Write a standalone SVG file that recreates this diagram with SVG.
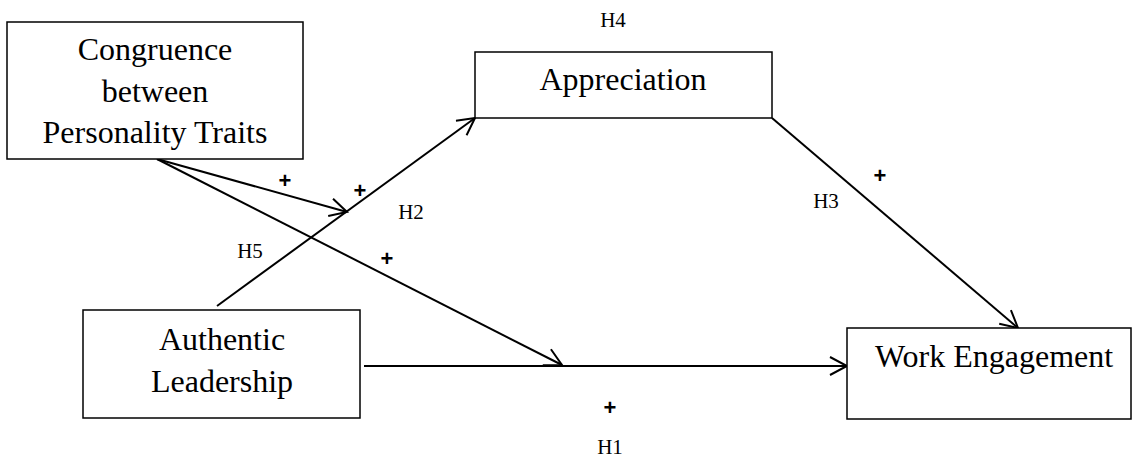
<svg xmlns="http://www.w3.org/2000/svg" width="1133" height="457" viewBox="0 0 1133 457">
<defs>
<style>
.box{fill:#fff;stroke:#000;stroke-width:1.5}
.t{font-family:"Liberation Serif","Times New Roman",serif;font-size:32px;fill:#000;text-anchor:middle}
.h{font-family:"Liberation Serif","Times New Roman",serif;font-size:21px;fill:#000;text-anchor:middle}
.p{font-family:"Liberation Sans",Arial,sans-serif;font-size:22px;font-weight:bold;fill:#000;text-anchor:middle}
.c{fill:none;stroke:#000;stroke-width:2}
</style>
<marker id="arr" markerWidth="22" markerHeight="22" refX="18" refY="10" orient="auto" markerUnits="userSpaceOnUse">
<path d="M1,1 L18,10 L1,19" fill="none" stroke="#000" stroke-width="2"/>
</marker>
</defs>
<rect width="1133" height="457" fill="#fff"/>
<g id="connectors">
<line class="c" x1="364" y1="366" x2="847" y2="366" marker-end="url(#arr)"/>
<line class="c" x1="157" y1="159" x2="562" y2="365" marker-end="url(#arr)"/>
<line class="c" x1="157" y1="159" x2="347" y2="212" marker-end="url(#arr)"/>
<line class="c" x1="217" y1="306" x2="475" y2="118" marker-end="url(#arr)"/>
<line class="c" x1="772" y1="118" x2="1018" y2="328" marker-end="url(#arr)"/>
</g>
<g id="node-congruence">
<rect class="box" x="7" y="22" width="296" height="137"/>
<text class="t" x="155" y="60">Congruence</text>
<text class="t" x="155" y="102">between</text>
<text class="t" x="155" y="143">Personality Traits</text>
</g>
<g id="node-appreciation">
<rect class="box" x="475" y="52" width="297" height="66"/>
<text class="t" x="623" y="90">Appreciation</text>
</g>
<g id="node-authentic">
<rect class="box" x="83" y="310" width="277" height="108"/>
<text class="t" x="222" y="350">Authentic</text>
<text class="t" x="222" y="392">Leadership</text>
</g>
<g id="node-engagement">
<rect class="box" x="847" y="328" width="284" height="91"/>
<text class="t" x="994" y="367">Work Engagement</text>
</g>
<g id="labels">
<text class="h" x="613" y="27">H4</text>
<text class="h" x="411" y="219">H2</text>
<text class="h" x="250" y="258">H5</text>
<text class="h" x="826" y="208">H3</text>
<text class="h" x="610" y="454">H1</text>
<text class="p" x="285" y="188">+</text>
<text class="p" x="360" y="198">+</text>
<text class="p" x="387" y="266">+</text>
<text class="p" x="880" y="183">+</text>
<text class="p" x="610" y="415">+</text>
</g>
</svg>
